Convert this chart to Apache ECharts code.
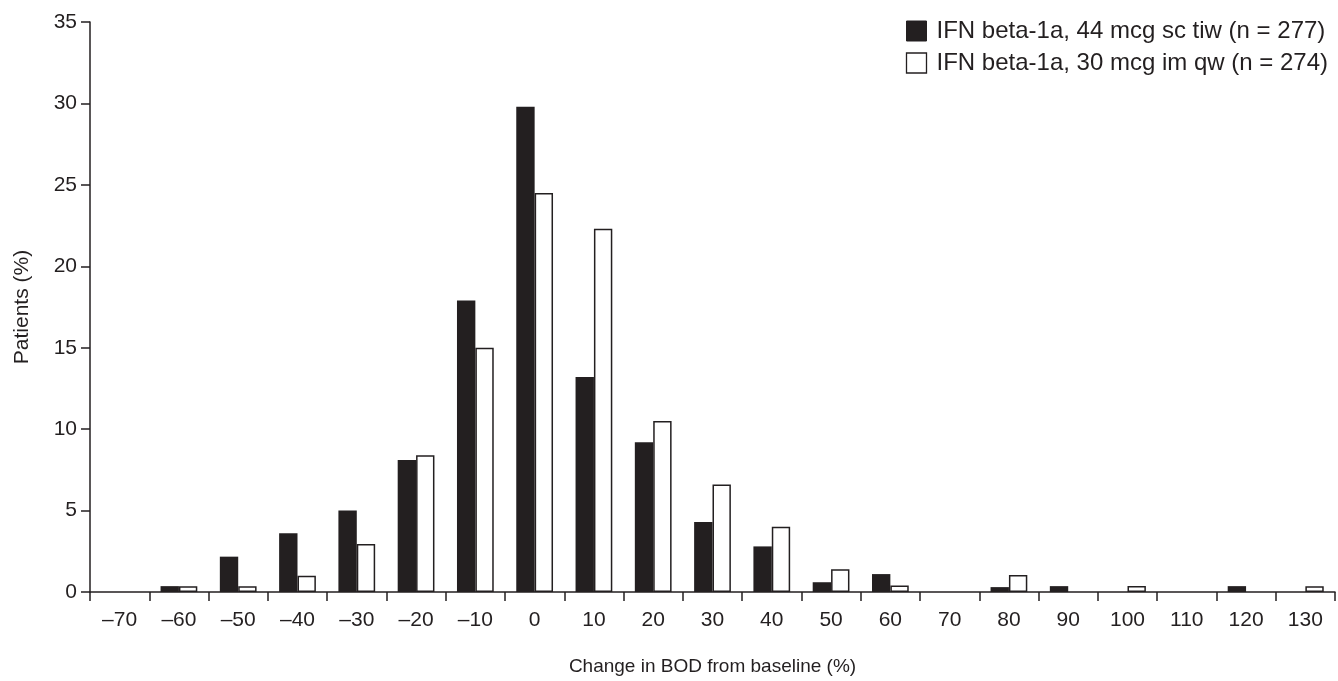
<!DOCTYPE html>
<html>
<head>
<meta charset="utf-8">
<script src="https://cdn.jsdelivr.net/npm/echarts@6/dist/echarts.min.js"></script>
<style>
html,body{margin:0;padding:0;background:#fff;}
#chart{width:1338px;height:681px;}
</style>
</head>
<body>
<div id="chart"></div>
<script>
// Data
var categories = ['–70','–60','–50','–40','–30','–20','–10','0','10','20','30','40','50','60','70','80','90','100','110','120','130'];
var sc44 = [0, 0.36, 2.17, 3.6, 5.0, 8.1, 17.9, 29.8, 13.2, 9.2, 4.3, 2.8, 0.6, 1.1, 0, 0.3, 0.36, 0, 0, 0.36, 0];
var im30 = [0, 0.36, 0.36, 1.0, 2.95, 8.4, 15.0, 24.5, 22.3, 10.5, 6.6, 4.0, 1.4, 0.4, 0, 1.05, 0, 0.37, 0, 0, 0.36];
var seriesNames = ['IFN beta-1a, 44 mcg sc tiw (n = 277)', 'IFN beta-1a, 30 mcg im qw (n = 274)'];
var yTicks = {min: 0, max: 35, interval: 5};

function noZero(arr) { return arr.map(function (v) { return v === 0 ? '-' : v; }); }

var ink = '#231f20';
var font = 'Liberation Sans, Arial, sans-serif';
var chart = echarts.init(document.getElementById('chart'), null, {renderer: 'canvas'});
chart.setOption({
  animation: false,
  backgroundColor: '#fff',
  textStyle: {fontFamily: font, color: ink},
  grid: {left: 90, right: 3, top: 22, bottom: 89, containLabel: false},
  legend: {
    orient: 'vertical', right: 5, top: 14,
    itemWidth: 20, itemHeight: 20, itemGap: 8,
    textStyle: {fontFamily: font, fontSize: 24, color: ink, padding: [0,0,0,5]},
    data: [
      {name: seriesNames[0], icon: 'rect', itemStyle: {color: ink, borderColor: ink, borderWidth: 1}},
      {name: seriesNames[1], icon: 'rect', itemStyle: {color: '#fff', borderColor: ink, borderWidth: 1.3}}
    ]
  },
  xAxis: {
    type: 'category',
    data: categories,
    boundaryGap: true,
    name: 'Change in BOD from baseline (%)',
    nameLocation: 'middle',
    nameGap: 65,
    nameTextStyle: {fontFamily: font, fontSize: 19, color: ink},
    axisLine: {lineStyle: {color: ink, width: 1.5}},
    axisTick: {show: true, length: 9, lineStyle: {color: ink, width: 1.5}, alignWithLabel: false},
    axisLabel: {fontFamily: font, fontSize: 21, color: ink, margin: 18, interval: 0},
    splitLine: {show: false}
  },
  yAxis: {
    type: 'value',
    min: yTicks.min, max: yTicks.max, interval: yTicks.interval,
    name: 'Patients (%)',
    nameLocation: 'middle',
    nameGap: 57,
    nameRotate: 90,
    nameTextStyle: {fontFamily: font, fontSize: 21, color: ink},
    axisLine: {show: true, lineStyle: {color: ink, width: 1.5}},
    axisTick: {show: true, length: 9, lineStyle: {color: ink, width: 1.5}},
    axisLabel: {fontFamily: font, fontSize: 21, color: ink, margin: 13},
    splitLine: {show: false}
  },
  series: [
    {
      name: seriesNames[0], type: 'bar', data: noZero(sc44),
      barWidth: '31%', barGap: '0%',
      itemStyle: {color: ink, borderColor: ink, borderWidth: 0}
    },
    {
      name: seriesNames[1], type: 'bar', data: noZero(im30),
      barWidth: '31%', barGap: '0%',
      itemStyle: {color: '#fff', borderColor: ink, borderWidth: 1.5}
    }
  ]
});
</script>
</body>
</html>
